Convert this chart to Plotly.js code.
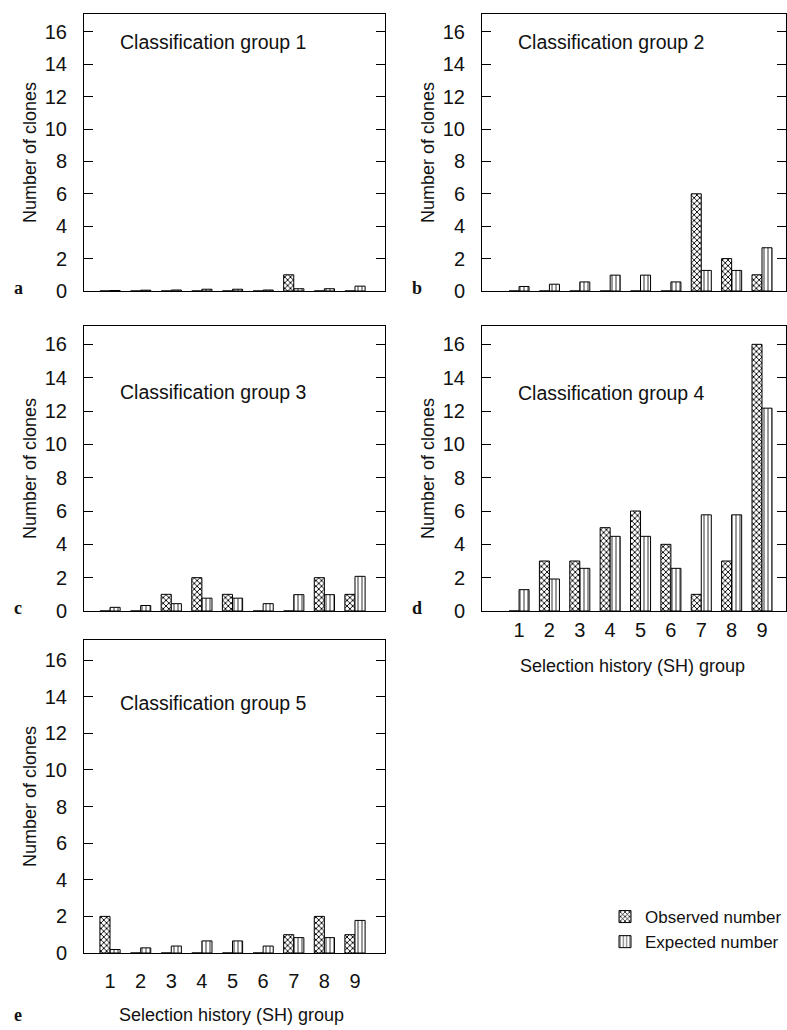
<!DOCTYPE html>
<html>
<head>
<meta charset="utf-8">
<script src="https://cdn.plot.ly/plotly-3.0.1.min.js"></script>
<style>html,body{margin:0;padding:0;background:#fff;}#chart{width:787px;height:1030px;}</style>
</head>
<body>
<div id="chart"></div>
<script>
// SH groups (x categories)
const shGroups = [1, 2, 3, 4, 5, 6, 7, 8, 9];
const yTicks = [0, 2, 4, 6, 8, 10, 12, 14, 16];

// Observed numbers per classification group
const observedG1 = [0, 0, 0, 0, 0, 0, 1, 0, 0];
const observedG2 = [0, 0, 0, 0, 0, 0, 6, 2, 1];
const observedG3 = [0, 0, 1, 2, 1, 0, 0, 2, 1];
const observedG4 = [0, 3, 3, 5, 6, 4, 1, 3, 16];
const observedG5 = [2, 0, 0, 0, 0, 0, 1, 2, 1];

// Expected numbers per classification group
const expectedG1 = [0.03, 0.05, 0.06, 0.11, 0.11, 0.06, 0.14, 0.14, 0.30];
const expectedG2 = [0.28, 0.42, 0.56, 0.98, 0.98, 0.56, 1.27, 1.27, 2.67];
const expectedG3 = [0.22, 0.33, 0.44, 0.77, 0.77, 0.44, 0.98, 0.98, 2.08];
const expectedG4 = [1.28, 1.92, 2.56, 4.48, 4.48, 2.56, 5.77, 5.77, 12.17];
const expectedG5 = [0.19, 0.28, 0.38, 0.66, 0.66, 0.38, 0.84, 0.84, 1.78];

const panelTitles = ['Classification group 1', 'Classification group 2', 'Classification group 3', 'Classification group 4', 'Classification group 5'];
const panelLetters = ['a', 'b', 'c', 'd', 'e'];
const seriesNames = ['Observed number', 'Expected number'];
const yTitle = 'Number of clones';
const xTitle = 'Selection history (SH) group';

const observed = [observedG1, observedG2, observedG3, observedG4, observedG5];
const expected = [expectedG1, expectedG2, expectedG3, expectedG4, expectedG5];

const W = 787, H = 1030;
// pixel boxes [left, right, top, bottom]
const boxes = [
  [84, 385, 14, 291],
  [482, 786, 14, 291],
  [84, 385, 326, 611],
  [482, 786, 326, 611],
  [84, 385, 640, 953]
];
const titleOffsets = [28, 28, 66, 67, 63];
const xRanges = [[0.15, 9.98], [-0.22, 9.79], [0.15, 9.98], [-0.22, 9.79], [0.15, 9.98]];

const FONT = 'Liberation Sans, Arial, sans-serif';
const obsMarker = {color: '#ffffff', line: {color: '#000', width: 1},
  pattern: {shape: 'x', fgcolor: '#000', bgcolor: '#fff', size: 4, solidity: 0.4, fillmode: 'replace'}};
const expMarker = {color: '#ffffff', line: {color: '#000', width: 1},
  pattern: {shape: '|', fgcolor: '#000', bgcolor: '#fff', size: 4, solidity: 0.2, fillmode: 'replace'}};

const data = [];
const layout = {
  width: W, height: H,
  margin: {l: 0, r: 0, t: 0, b: 0},
  paper_bgcolor: '#fff', plot_bgcolor: '#fff',
  barmode: 'group', bargap: 0.34, bargroupgap: 0,
  font: {family: FONT, color: '#111', size: 18},
  showlegend: true,
  legend: {x: 1, y: 1 - 899 / H, xanchor: 'right', yanchor: 'top',
    font: {family: FONT, size: 17, color: '#111'}, bgcolor: 'rgba(0,0,0,0)',
    tracegroupgap: 0},
  annotations: [],
  shapes: []
};

for (let i = 0; i < 5; i++) {
  const sfx = i === 0 ? '' : String(i + 1);
  const xa = 'x' + sfx, ya = 'y' + sfx;
  data.push({type: 'bar', x: shGroups, y: observed[i], xaxis: xa, yaxis: ya,
    name: seriesNames[0], legendgroup: 'obs', showlegend: i === 0, marker: obsMarker,
    width: 0.33, offset: -0.33});
  data.push({type: 'bar', x: shGroups, y: expected[i], xaxis: xa, yaxis: ya,
    name: seriesNames[1], legendgroup: 'exp', showlegend: i === 0, marker: expMarker,
    width: 0.33, offset: 0});
  const [l, r, t, b] = boxes[i];
  const showX = (i === 3 || i === 4);
  layout['xaxis' + sfx] = {
    domain: [l / W, r / W], anchor: ya, range: xRanges[i],
    tickmode: 'array', tickvals: shGroups, ticktext: shGroups.map(String),
    showticklabels: showX, ticks: '', showline: true, linecolor: '#000', linewidth: 1,
    mirror: true, showgrid: false, zeroline: false, fixedrange: true,
    tickfont: {family: FONT, size: 20, color: '#111'}, ticklabelstandoff: i === 4 ? 10 : 1
  };
  layout['yaxis' + sfx] = {
    domain: [1 - b / H, 1 - t / H], anchor: xa, range: [0, 17.1],
    tickmode: 'array', tickvals: yTicks, ticktext: yTicks.map(String),
    ticks: 'inside', ticklen: 9, tickcolor: '#000', tickwidth: 1,
    showline: true, linecolor: '#000', linewidth: 1, mirror: 'ticks',
    showgrid: false, zeroline: false, fixedrange: true,
    tickfont: {family: FONT, size: 20, color: '#111'}, ticklabelstandoff: 12,
    title: {text: yTitle, font: {family: FONT, size: 18, color: '#111'}, standoff: 3}
  };
  // panel title
  layout.annotations.push({xref: 'paper', yref: 'paper', x: (l + 34) / W, y: 1 - (t + titleOffsets[i]) / H,
    xanchor: 'left', yanchor: 'middle', text: panelTitles[i], showarrow: false,
    font: {family: FONT, size: 19.5, color: '#111'}});
  // panel letter
  const letterY = i === 4 ? 1015 : b - 3;
  layout.annotations.push({xref: 'paper', yref: 'paper', x: (l - 72) / W, y: 1 - letterY / H,
    xanchor: 'left', yanchor: 'middle', text: '<b>' + panelLetters[i] + '</b>', showarrow: false,
    font: {family: 'Liberation Serif, Times New Roman, serif', size: 18, color: '#111'}});
  if (showX) {
    const ty = i === 4 ? 1015 : b + 55;
    layout.annotations.push({xref: 'paper', yref: 'paper', x: (i === 4 ? 232 : 632) / W, y: 1 - ty / H,
      xanchor: 'center', yanchor: 'middle', text: xTitle, showarrow: false,
      font: {family: FONT, size: 18, color: '#111'}});
  }
}

Plotly.newPlot('chart', data, layout, {staticPlot: true, displayModeBar: false});
</script>
</body>
</html>
